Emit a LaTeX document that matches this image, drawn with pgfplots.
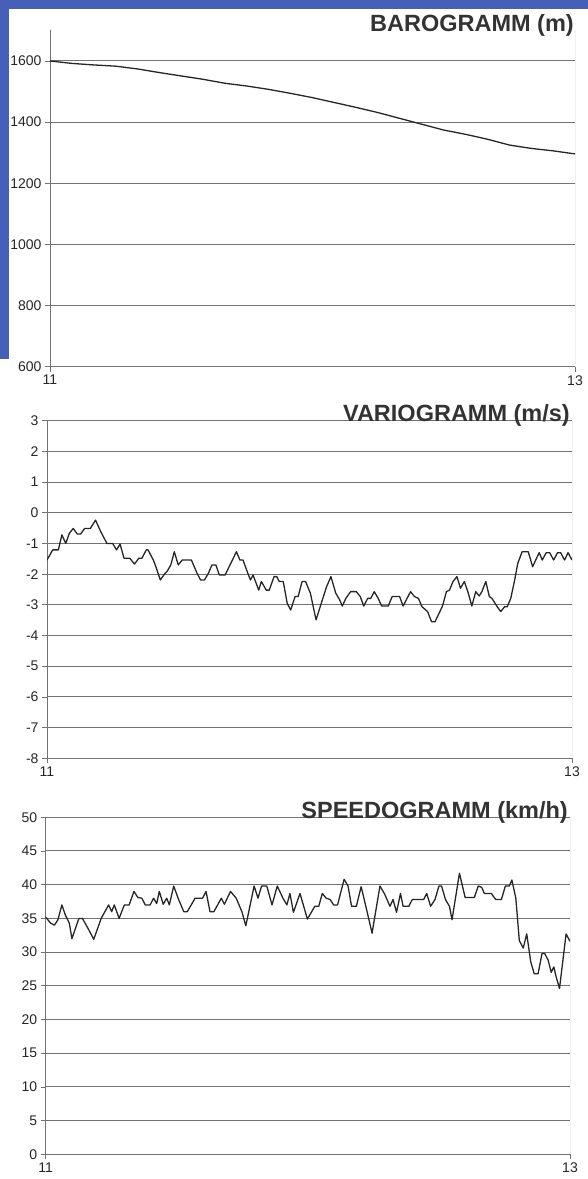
\documentclass[border=0pt]{standalone}
\usepackage{fontspec}
\setmainfont{Liberation Sans}
\usepackage{pgfplots}
\pgfplotsset{compat=1.18}
\pgfplotsset{
 chartstyle/.style={
  scale only axis, anchor=south west,
  xmin=0, xmax=120, xtick={0,120}, xticklabels={11,13},
  axis x line*=bottom, axis y line*=left,
  axis line style={draw=black!55, line width=0.9pt},
  tick align=outside, major tick length=5pt,
  tick style={draw=black!55, line width=0.8pt},
  ymajorgrids, grid style={draw=black!55, line width=1pt},
  tick label style={font=\fontsize{14}{16}\selectfont, text=black!85},
  /pgf/number format/assume math mode=true,
  /pgf/number format/1000 sep={},
 },
 dataline/.style={draw=black!85, line width=1.3pt, line join=round, no markers},
}
\begin{document}
\begin{tikzpicture}
\useasboundingbox (0pt,0pt) rectangle (588pt,1179pt);
\fill[fill={rgb,255:red,70;green,95;blue,185}] (0pt,1179pt) rectangle (588pt,1170pt);
\fill[fill={rgb,255:red,70;green,95;blue,185}] (0pt,1179pt) rectangle (9pt,820pt);

% BAROGRAMM
\begin{axis}[chartstyle, at={(50pt,812.3pt)}, width=525pt, height=336.3pt,
  ymin=600, ymax=1700, ytick={600,800,...,1600}]
\addplot[dataline] coordinates {(0,1600) (5,1592) (10,1587) (15,1583) (20,1574) (25,1562) (30,1551) (35,1540) (40,1527) (45,1518) (50,1507) (55,1494) (60,1480) (65,1464) (70,1448) (75,1431) (80,1412) (85,1393) (90,1374) (95,1360) (100,1344) (105,1325) (110,1314) (115,1306) (120,1296)};
\draw[black!50, line width=0.8pt] (rel axis cs:1,0) -- (rel axis cs:1,1);
\end{axis}
\node[anchor=base east, inner sep=0pt, font=\fontsize{23.5}{26}\selectfont\bfseries, text=black!80] at (574pt,1147.5pt) {BAROGRAMM (m)};

% VARIOGRAMM
\begin{axis}[chartstyle, at={(47pt,420.7pt)}, width=525pt, height=337.6pt,
  ymin=-8, ymax=3, ytick={-8,-7,...,3}]
\addplot[dataline] coordinates {(0,-1.54) (1.3,-1.21) (2.6,-1.21) (3.4,-0.72) (4.3,-1.0) (5.1,-0.67) (6.0,-0.51) (6.9,-0.69) (7.7,-0.69) (8.6,-0.51) (9.9,-0.51) (11.1,-0.24) (12.3,-0.62) (13.7,-1.0) (15.0,-1.0) (15.9,-1.21) (16.7,-1.02) (17.6,-1.48) (18.9,-1.48) (20.0,-1.67) (21.0,-1.48) (21.7,-1.48) (22.7,-1.21) (23.1,-1.21) (24.3,-1.54) (24.9,-1.76) (25.9,-2.19) (27.0,-1.97) (27.4,-1.92) (28.3,-1.70) (29.1,-1.27) (30.0,-1.70) (30.9,-1.54) (33.0,-1.54) (34.3,-1.97) (35.1,-2.19) (36.0,-2.19) (36.9,-1.97) (37.7,-1.70) (38.6,-1.70) (39.4,-2.03) (40.7,-2.03) (42.0,-1.65) (43.3,-1.27) (44.1,-1.54) (44.8,-1.54) (45.9,-1.97) (46.5,-2.19) (47.1,-2.03) (48.4,-2.52) (49.0,-2.24) (50.1,-2.52) (50.8,-2.52) (51.9,-2.08) (52.5,-2.08) (53.1,-2.24) (54.0,-2.24) (54.9,-2.95) (55.7,-3.17) (56.7,-2.73) (57.4,-2.73) (58.3,-2.24) (59.1,-2.24) (60.2,-2.62) (61.5,-3.49) (62.8,-2.90) (63.9,-2.41) (64.9,-2.08) (66.0,-2.62) (66.9,-2.84) (67.5,-3.04) (68.3,-2.79) (69.4,-2.57) (70.7,-2.57) (71.6,-2.73) (72.4,-3.04) (73.3,-2.79) (74.0,-2.79) (74.8,-2.57) (75.7,-2.79) (76.5,-3.04) (78.0,-3.04) (78.9,-2.73) (80.6,-2.73) (81.4,-3.04) (82.3,-2.79) (83.1,-2.57) (84.0,-2.73) (84.9,-2.79) (85.7,-3.06) (87.0,-3.22) (87.9,-3.55) (88.7,-3.55) (89.6,-3.28) (90.4,-3.04) (91.3,-2.57) (92.0,-2.52) (92.8,-2.24) (93.7,-2.08) (94.5,-2.46) (95.4,-2.24) (96.3,-2.62) (97.1,-3.04) (98.0,-2.57) (98.8,-2.71) (99.4,-2.57) (100.3,-2.24) (101.1,-2.73) (101.7,-2.79) (102.9,-3.06) (103.7,-3.22) (104.6,-3.06) (105.2,-3.06) (106.0,-2.79) (106.9,-2.19) (107.6,-1.65) (108.6,-1.27) (110.0,-1.27) (111.0,-1.76) (111.7,-1.54) (112.5,-1.30) (113.2,-1.54) (114.1,-1.30) (114.9,-1.30) (115.8,-1.54) (116.7,-1.30) (117.4,-1.30) (118.3,-1.54) (119.1,-1.30) (120,-1.54)};
\draw[black!50, line width=0.8pt] (rel axis cs:1,0) -- (rel axis cs:1,1);
\end{axis}
\node[anchor=base east, inner sep=0pt, font=\fontsize{23.5}{26}\selectfont\bfseries, text=black!80] at (570pt,757.5pt) {VARIOGRAMM (m/s)};

% SPEEDOGRAMM
\begin{axis}[chartstyle, at={(45.7pt,24.7pt)}, width=524.3pt, height=337pt,
  ymin=0, ymax=50, ytick={0,5,...,50}]
\addplot[dataline] coordinates {(0,35.2) (1.1,34.3) (2.0,34.0) (2.8,34.8) (3.7,37.0) (4.5,35.5) (5.4,34.3) (6.0,32.0) (7.6,35.0) (8.4,35.0) (9.7,33.5) (11.0,31.9) (12.7,35.0) (14.4,37.0) (15.1,36.0) (15.7,37.0) (16.8,35.0) (18.0,37.0) (19.1,37.0) (20.2,39.0) (21.1,38.1) (22.0,38.0) (22.8,37.0) (23.9,37.0) (24.7,38.0) (25.4,37.2) (26.0,39.0) (26.9,37.1) (27.7,38.0) (28.3,37.0) (29.3,39.8) (30.3,38.0) (31.6,36.0) (32.4,36.0) (34.2,38.0) (35.9,38.0) (36.7,39.0) (37.6,36.0) (38.5,36.0) (40.2,38.0) (40.9,37.1) (42.3,39.0) (43.6,38.0) (44.9,36.0) (45.8,33.9) (47.7,39.8) (48.6,38.0) (49.4,39.8) (50.6,39.8) (51.8,37.0) (53.0,39.8) (54.3,38.0) (55.2,37.0) (55.9,38.7) (56.7,35.9) (58.2,38.7) (59.9,34.9) (61.6,36.8) (62.5,36.8) (63.3,38.7) (64.2,38.0) (65.1,37.8) (65.9,37.0) (66.8,37.0) (68.3,40.8) (69.2,39.8) (70.0,36.8) (71.1,36.8) (72.2,39.7) (73.2,37.0) (74.7,32.8) (76.5,39.8) (77.5,38.7) (78.8,36.8) (79.5,37.8) (80.3,35.9) (81.2,38.7) (81.8,36.8) (83.1,36.8) (83.9,37.8) (86.5,37.8) (87.2,38.7) (88.1,36.8) (89.1,37.8) (90.0,39.8) (90.6,39.8) (91.5,37.8) (92.4,36.8) (93.0,34.8) (94.7,41.7) (96.0,38.1) (98.1,38.1) (99.0,39.8) (99.8,39.6) (100.4,38.7) (102.0,38.7) (103.0,37.8) (104.3,37.8) (105.2,39.8) (106.1,39.8) (106.7,40.7) (107.6,38.0) (108.4,31.7) (109.3,30.6) (110.1,32.7) (111.0,28.6) (111.8,26.8) (112.7,26.8) (113.6,29.8) (114.2,29.8) (115.0,28.8) (115.7,27.0) (116.3,27.8) (116.8,26.4) (117.6,24.6) (119.1,32.7) (120,31.6)};
\draw[black!50, line width=0.8pt] (rel axis cs:1,0) -- (rel axis cs:1,1);
\end{axis}
\node[anchor=base east, inner sep=0pt, font=\fontsize{23.5}{26}\selectfont\bfseries, text=black!80] at (568pt,360.7pt) {SPEEDOGRAMM (km/h)};
\end{tikzpicture}
\end{document}
